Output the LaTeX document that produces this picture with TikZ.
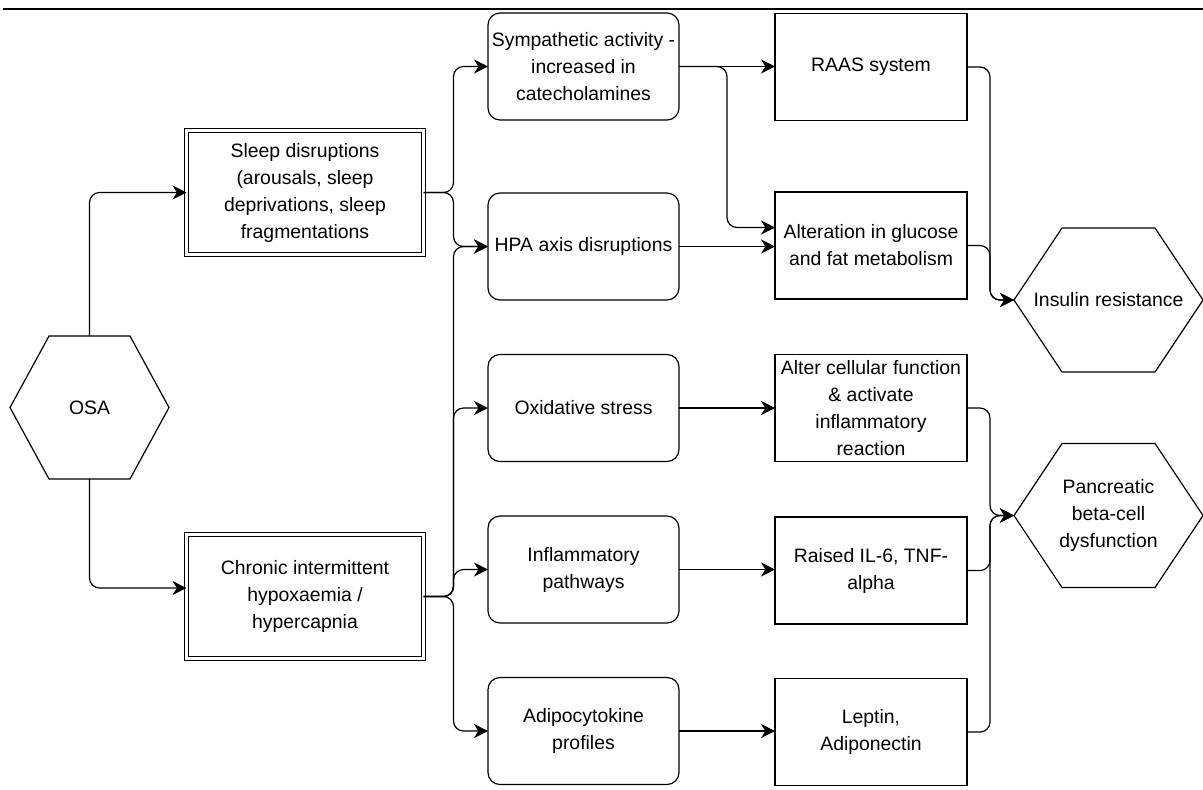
\documentclass[tikz,border=0pt]{standalone}
\usepackage{fontspec}
\setmainfont{Liberation Sans}
\usetikzlibrary{arrows.meta, positioning, calc}
\tikzset{
  txt/.style={font=\fontsize{9.7pt}{13.5pt}\selectfont, align=center, inner sep=0pt, outer sep=0pt},
  dblbox/.style={txt, draw, line width=0.5pt, double, double distance=1.2pt, minimum width=118.5pt, minimum height=62pt},
  midbox/.style={txt, draw, line width=0.6pt, rounded corners=6pt, minimum width=95.5pt, minimum height=53.5pt},
  resbox/.style={txt, draw, line width=0.6pt, minimum width=96pt, minimum height=53.5pt},
  hexbox/.style={txt, minimum width=94.5pt, minimum height=72pt},
  conn/.style={draw, line width=0.6pt, rounded corners=5pt, -{Stealth[length=7pt, width=7pt, inset=2.2pt]}}
}

\begin{document}
\begin{tikzpicture}[x=0.5pt, y=-0.5pt]
  \useasboundingbox (0,0) rectangle (1203,789);
  % Rule on top
  \draw[line width=1pt] (3,9) -- (1203,9);
  % Start and the two causes
  \node[hexbox, minimum width=79.5pt, minimum height=71.5pt] (osa) at (89.5,407.5) {OSA};
  \node[dblbox] (sleep) at (305,192.5) {Sleep disruptions\\(arousals, sleep\\deprivations, sleep\\fragmentations};
  \node[dblbox] (chronic) at (305,596.5) {Chronic intermittent\\hypoxaemia /\\hypercapnia};
  % Mechanisms
  \foreach \n/\y/\t in {symp/66.5/{Sympathetic activity -\\increased in\\catecholamines},
      hpa/246.5/{HPA axis disruptions},
      oxi/408/{Oxidative stress},
      infl/569.5/{Inflammatory\\pathways},
      adipo/731/{Adipocytokine\\profiles}}
    \node[midbox] (\n) at (583.5,\y) {\t};
  % Effects
  \foreach \n/\y/\t in {raas/67/{RAAS system},
      alt/245.5/{Alteration in glucose\\and fat metabolism},
      acf/408/{Alter cellular function\\\& activate\\inflammatory\\reaction},
      il6/570.5/{Raised IL-6, TNF-\\alpha},
      lep/732/{Leptin,\\Adiponectin}}
    \node[resbox] (\n) at (871,\y) {\t};
  % Outcomes
  \node[hexbox] (ins) at (1108.5,300) {Insulin resistance};
  \node[hexbox] (pan) at (1108.5,515.5) {Pancreatic\\beta-cell\\dysfunction};
  \foreach \h/\d in {osa/19.5pt, ins/24pt, pan/24pt}
    \draw[line width=0.6pt] (\h.west) -- ([xshift=\d]\h.north west) -- ([xshift=-\d]\h.north east)
      -- (\h.east) -- ([xshift=-\d]\h.south east) -- ([xshift=\d]\h.south west) -- cycle;
  % Connectors
  \draw[conn] (osa.north) |- (sleep.west);
  \draw[conn] (osa.south) |- ([yshift=4.25pt]chronic.west);
  \foreach \m in {symp, hpa}
    \draw[conn] (sleep.east) -- ++(30,0) |- (\m.west);
  \foreach \m in {hpa, oxi, infl, adipo}
    \draw[conn] (chronic.east) -- ++(30,0) |- (\m.west);
  \draw[conn] (symp.east) -- (symp.east -| raas.west);
  \draw[conn] (symp.east) -- ++(48,0) |- ([yshift=9pt]alt.west);
  \foreach \a/\b in {hpa/alt, oxi/acf, infl/il6, adipo/lep}
    \draw[conn] (\a.east) -- (\a.east -| \b.west);
  \foreach \r/\h in {raas/ins, alt/ins, acf/pan, il6/pan, lep/pan}
    \draw[conn] (\r.east) -- ++(23,0) |- (\h.west);
\end{tikzpicture}
\end{document}
